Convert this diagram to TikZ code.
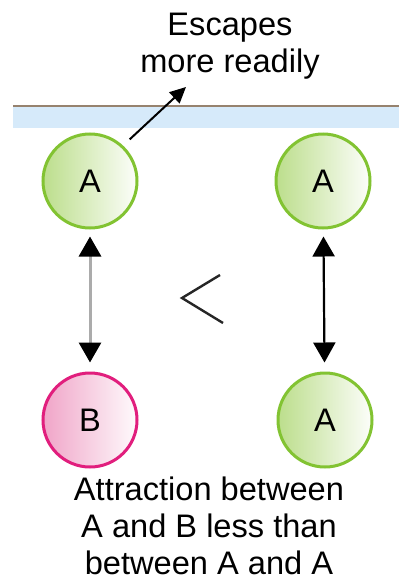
\documentclass[tikz,border=0pt]{standalone}
\usepackage{fontspec}
\setmainfont{Liberation Sans}
\usepackage{xcolor}
\usepackage{tikz}
\usetikzlibrary{arrows.meta, shapes}

\definecolor{molgreen}{RGB}{130,195,50}
\definecolor{molgreenfill}{RGB}{188,222,140}
\definecolor{molpink}{RGB}{225,30,125}
\definecolor{molpinkfill}{RGB}{240,165,200}
\definecolor{surfline}{RGB}{150,130,110}
\definecolor{surfblue}{RGB}{214,234,250}

\begin{document}
\begin{tikzpicture}[x=0.5pt, y=-0.5pt]
		\tikzstyle{every node} = [font = \fontsize{16.3}{18.5}\selectfont]
		\tikzstyle{molA} = [circle, draw = molgreen, line width = 1.5pt, minimum size = 47pt, inner sep = 0pt, left color = molgreenfill, right color = white!96!molgreenfill]
		\tikzstyle{molB} = [circle, draw = molpink, line width = 1.5pt, minimum size = 47pt, inner sep = 0pt, left color = molpinkfill, right color = white!95!molpinkfill]
		\tikzstyle{pull} = [{Triangle[width=11pt, length=10pt, color=black]}-{Triangle[width=11pt, length=10pt, color=black]}, line width = 1.1pt, shorten < = 3.5pt, shorten > = 4.5pt]
			\useasboundingbox (0,0) rectangle (399,578);
			\path[fill = surfblue] (13,107) rectangle (399,128);
			\path[draw = surfline, line width = 1pt] (13,106) -- (399,106);
			\node[molA] (topleft) at (90,181) {A};
			\node[molA] (topright) at (323,181) {A};
			\node[molB] (botleft) at (90,420) {B};
			\node[molA] (botright) at (325,420) {A};
			\coordinate (escape) at (186,87);
			\path[draw, -{Triangle[width=7.5pt, length=8pt]}, line width = 1pt, shorten < = 4.5pt] (topleft.47) -- (escape);
			\node[align = center, anchor = north, inner sep = 0pt] (esclabel) at (230,13) {Escapes\\more readily};
			\path[draw = black!33, pull, line width = 1.5pt] (topleft) -- (botleft);
			\path[draw, pull] (topright) -- (botright);
			\path[draw = black!85, line width = 1.2pt] (220,275) -- (182,298) -- (223,323);
			\node[align = center, anchor = north, inner sep = 0pt] (caption) at (209,476) {Attraction between\\A and B less than\\between A and A};
		\end{tikzpicture}
\end{document}
